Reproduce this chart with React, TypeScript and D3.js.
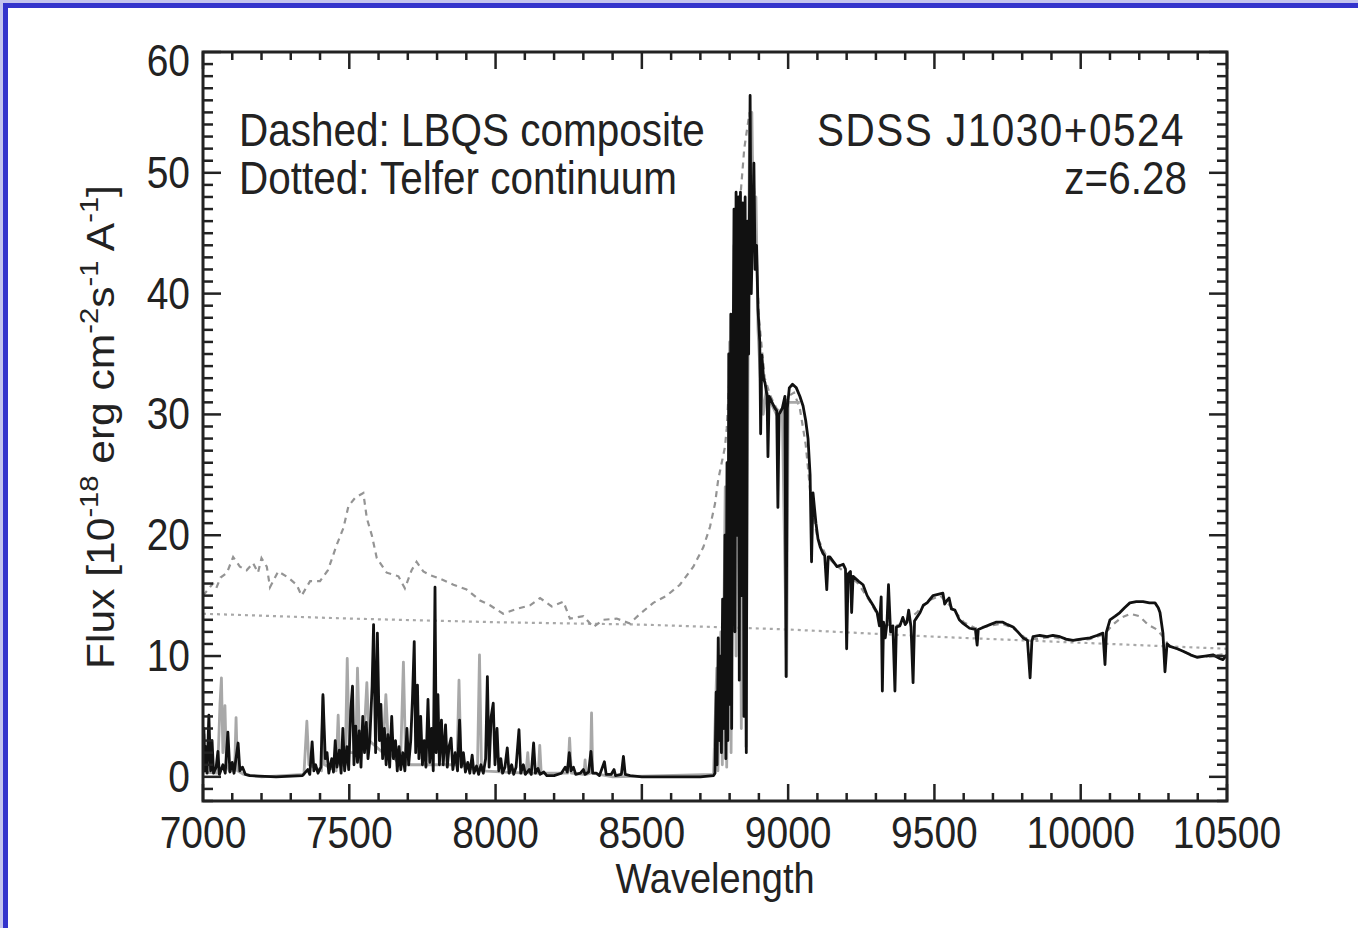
import React from "react";
import * as d3 from "d3";

// Observed spectrum of SDSS J1030+0524 (black trace), flux in 1e-18 erg/cm^2/s/A
const blackSpectrum: [number, number][] = [
  [7000, 1.0], [7003, 4.0], [7006, 0.5], [7010, 2.5], [7014, 0.3], [7020, 5.1], [7026, 0.5], [7031, 3.0], [7036, 0.3],
  [7045, 0.8], [7051, 2.1], [7056, 0.2], [7068, 1.0], [7076, 0.3], [7085, 3.7], [7092, 0.4], [7100, 1.2], [7106, 0.3],
  [7120, 2.8], [7126, 0.5], [7135, 0.8], [7145, 0.2], [7160, 0.1], [7250, 0.0], [7340, 0.1], [7358, 0.6], [7365, 0.2],
  [7373, 2.9], [7379, 0.5], [7385, 1.0], [7393, 0.3], [7403, 0.8], [7410, 6.8], [7418, 1.5], [7424, 2.0], [7430, 0.3],
  [7440, 1.5], [7446, 0.4], [7452, 3.0], [7458, 0.8], [7466, 2.2], [7472, 0.3], [7478, 4.0], [7484, 0.5], [7492, 2.5],
  [7498, 0.6], [7505, 5.5], [7511, 7.5], [7516, 1.0], [7522, 4.2], [7528, 1.2], [7534, 3.8], [7540, 0.8], [7546, 5.0],
  [7552, 2.0], [7558, 4.5], [7564, 1.5], [7570, 3.0], [7578, 7.5], [7583, 12.6], [7590, 2.0], [7596, 11.9], [7603, 3.0],
  [7608, 6.0], [7614, 1.5], [7620, 4.0], [7626, 1.0], [7632, 3.5], [7638, 0.8], [7645, 5.0], [7651, 1.5], [7658, 3.0],
  [7664, 0.5], [7670, 2.5], [7676, 0.6], [7683, 2.0], [7690, 0.5], [7697, 4.0], [7703, 1.0], [7710, 3.0], [7716, 6.5],
  [7722, 11.2], [7727, 2.0], [7733, 7.6], [7738, 1.5], [7744, 5.0], [7750, 1.0], [7756, 3.0], [7762, 0.8], [7769, 6.4],
  [7775, 1.2], [7781, 4.0], [7787, 0.5], [7793, 15.7], [7797, 2.0], [7803, 6.8], [7808, 1.0], [7815, 4.7], [7821, 1.0],
  [7829, 4.3], [7835, 0.8], [7841, 2.5], [7848, 3.2], [7854, 0.6], [7862, 2.0], [7870, 0.5], [7877, 4.7], [7883, 0.8],
  [7890, 2.0], [7897, 0.4], [7905, 1.2], [7912, 0.3], [7920, 1.8], [7926, 0.3], [7935, 0.9], [7942, 0.2], [7950, 1.0],
  [7958, 0.3], [7966, 1.5], [7972, 8.3], [7978, 0.8], [7985, 5.0], [7992, 6.1], [7998, 1.0], [8005, 4.0], [8011, 0.5],
  [8018, 1.5], [8024, 0.3], [8032, 0.8], [8040, 2.4], [8046, 0.3], [8055, 1.0], [8062, 0.2], [8070, 0.8], [8080, 3.9],
  [8086, 0.3], [8095, 1.0], [8102, 0.2], [8115, 0.6], [8122, 0.2], [8130, 2.8], [8136, 0.3], [8145, 0.7], [8152, 0.2],
  [8165, 0.4], [8175, 0.1], [8200, 0.1], [8225, 0.3], [8238, 0.8], [8245, 0.4], [8252, 2.0], [8258, 0.5], [8266, 0.8],
  [8274, 0.2], [8290, 0.3], [8300, 0.6], [8306, 0.2], [8318, 0.4], [8326, 2.1], [8332, 0.3], [8345, 0.3], [8355, 0.1],
  [8372, 1.25], [8378, 0.2], [8395, 0.2], [8405, 0.6], [8410, 0.1], [8430, 0.2], [8437, 1.7], [8443, 0.2], [8460, 0.1],
  [8500, 0.0], [8600, 0.0], [8700, 0.0], [8745, 0.1],
  [8750, 0.3], [8754, 7], [8757, 1], [8761, 11.5], [8765, 3], [8769, 10], [8772, 2], [8776, 14.7], [8780, 4], [8784, 20],
  [8787, 1.5], [8791, 26], [8794, 3], [8797, 35], [8800, 6], [8804, 38.3], [8807, 4], [8811, 30], [8815, 47], [8818, 12],
  [8822, 48.4], [8826, 20], [8830, 48], [8833, 8], [8837, 48.4], [8841, 15], [8845, 47.5], [8849, 5], [8853, 48], [8857, 2],
  [8861, 46], [8865, 35], [8870, 56.4], [8874, 40], [8878, 45], [8883, 50.8], [8887, 42], [8892, 44], [8897, 38.7],
  [8903, 36], [8906, 28.4], [8910, 34.9], [8916, 33], [8921, 32.6], [8928, 31.5], [8931, 26.5], [8935, 31.5], [8945, 31],
  [8955, 30.5], [8961, 30.3], [8965, 22.3], [8969, 30], [8980, 30.5], [8989, 31.5], [8993, 8.3], [8997, 30.5], [9004, 32.2],
  [9015, 32.5], [9028, 32.2], [9040, 31.5], [9051, 30.7], [9060, 29.5], [9068, 28], [9075, 25], [9080, 17.8], [9085, 23.5],
  [9095, 21], [9102, 19.7], [9110, 19], [9119, 18.5], [9125, 18.3], [9132, 15.5], [9137, 18.2], [9143, 18.2], [9155, 17.8],
  [9167, 17.4], [9178, 17.5], [9188, 17.6], [9196, 17.2], [9200, 10.6], [9205, 16.8], [9213, 17], [9217, 13.6], [9222, 16.6],
  [9240, 16.2], [9256, 15.9], [9270, 15], [9290, 14.2], [9304, 13.6], [9312, 12.5], [9318, 14.9], [9322, 7.1], [9326, 12.8],
  [9332, 11.5], [9338, 12.8], [9343, 15.9], [9350, 12], [9358, 12.5], [9365, 7.1], [9370, 12.4], [9382, 12.5], [9392, 13.2],
  [9400, 12.6], [9406, 12.8], [9412, 13.8], [9420, 12.4], [9427, 7.8], [9432, 12.9], [9440, 13.2], [9451, 13.6], [9462, 14.2],
  [9475, 14.4], [9485, 14.7], [9495, 15.0], [9512, 15.1], [9529, 15.2], [9535, 14.3], [9543, 14.6], [9550, 14.8], [9558, 13.9],
  [9570, 13.8], [9585, 13.0], [9598, 12.7], [9620, 12.3], [9640, 12.2], [9646, 10.9], [9650, 12.2], [9670, 12.4], [9690, 12.6],
  [9710, 12.8], [9734, 12.8], [9750, 12.6], [9769, 12.4], [9785, 12.0], [9803, 11.5], [9818, 11.3], [9827, 8.2], [9833, 11.2],
  [9837, 11.6], [9860, 11.7], [9885, 11.6], [9905, 11.7], [9929, 11.6], [9950, 11.4], [9974, 11.3], [10000, 11.4],
  [10032, 11.5], [10055, 11.7], [10076, 11.9], [10083, 9.3], [10088, 12], [10100, 13.0], [10118, 13.3], [10134, 13.6],
  [10150, 14.0], [10168, 14.4], [10190, 14.5], [10213, 14.5], [10235, 14.4], [10254, 14.4], [10265, 14.0], [10271, 13.6],
  [10281, 11.9], [10288, 8.7], [10295, 11.0], [10305, 10.8], [10330, 10.6], [10350, 10.4], [10375, 10.1], [10397, 9.9],
  [10425, 10.0], [10452, 10.1], [10475, 9.8], [10486, 9.7], [10500, 10.1],
];

// Second (lighter) spectrum, visible where it departs from the black one
const graySpectrum: [number, number][] = [
  [7000, 0.5], [7004, 3.5], [7008, 0.4], [7050, 0.3], [7058, 6.0], [7063, 8.2], [7068, 2.0], [7075, 5.9], [7080, 1.0],
  [7090, 0.5], [7108, 0.5], [7113, 4.9], [7118, 0.5], [7140, 0.2], [7200, 0.0], [7345, 0.2], [7355, 4.6], [7362, 1.0],
  [7405, 0.5], [7410, 6.6], [7415, 1.0], [7455, 0.5], [7462, 5.1], [7468, 1.0], [7486, 1.0], [7493, 9.8], [7500, 2.0],
  [7522, 2.0], [7528, 9.0], [7535, 3.0], [7550, 3.0], [7560, 7.8], [7568, 3.0], [7615, 2.0], [7625, 6.8], [7635, 2.0],
  [7675, 1.0], [7685, 9.5], [7693, 1.0], [7868, 1.0], [7875, 8.0], [7882, 1.0], [7938, 0.5], [7945, 10.1], [7952, 0.5],
  [8104, 0.3], [8110, 2.0], [8115, 0.3], [8146, 0.3], [8151, 2.6], [8156, 0.3], [8247, 0.3], [8253, 3.2], [8259, 0.3],
  [8302, 0.2], [8306, 1.4], [8310, 0.2], [8324, 0.3], [8328, 5.3], [8332, 0.3], [8400, 0.0], [8745, 0.2],
  [8756, 9], [8760, 0.5], [8770, 12], [8775, 1], [8785, 24], [8790, 0.8], [8800, 36], [8805, 2], [8815, 44], [8822, 10],
  [8830, 46], [8840, 4], [8848, 44], [8856, 2.5], [8862, 30], [8868, 54], [8876, 55], [8882, 44], [8890, 48], [8897, 37],
  [8905, 33], [8915, 30], [8925, 32], [8940, 31], [8960, 30], [8980, 30.5], [8995, 8.3], [9000, 31], [9040, 31],
];

// LBQS quasar composite, scaled to the object (dashed)
const lbqsComposite: [number, number][] = [
  [7000, 15.0], [7034, 16.0], [7045, 15.6], [7060, 16.5], [7082, 16.9], [7103, 18.2], [7126, 17.4], [7149, 17.1],
  [7171, 17.7], [7188, 16.9], [7200, 18.1], [7218, 17.4], [7229, 15.7], [7257, 17.0], [7291, 16.5], [7320, 15.9],
  [7337, 15.0], [7366, 16.2], [7400, 16.2], [7427, 17.1], [7457, 19.2], [7480, 20.6], [7497, 22.4], [7520, 23.1],
  [7548, 23.5], [7560, 21.4], [7577, 20.0], [7594, 18.1], [7628, 16.9], [7668, 16.6], [7690, 15.6], [7713, 17.1],
  [7730, 17.8], [7753, 17.0], [7776, 16.7], [7810, 16.4], [7856, 15.9], [7901, 15.5], [7947, 14.6], [7981, 14.2],
  [8026, 13.5], [8072, 13.9], [8118, 14.2], [8152, 14.8], [8192, 14.1], [8232, 14.5], [8254, 13.1], [8300, 13.3],
  [8334, 12.4], [8368, 13.0], [8414, 13.1], [8459, 12.7], [8494, 13.5], [8539, 14.4], [8585, 15.0], [8630, 15.9],
  [8676, 17.4], [8710, 19.0], [8733, 20.7], [8750, 22.6], [8761, 24.6], [8784, 27.3], [8790, 28.8], [8810, 38],
  [8830, 46], [8850, 52], [8868, 55], [8885, 48], [8900, 38], [8920, 33], [8940, 31.5], [8960, 30.5], [8980, 30],
  [9000, 31.5], [9020, 31.8], [9040, 30.5], [9060, 27.5], [9080, 22.5], [9100, 19.8], [9130, 18.3], [9160, 17.6],
  [9200, 16.8], [9240, 16.0], [9280, 14.5], [9320, 12.8], [9360, 12.4], [9400, 12.8], [9440, 13.6], [9480, 14.6],
  [9520, 15.0], [9560, 14.0], [9600, 12.8], [9640, 12.3], [9690, 12.5], [9730, 12.7], [9770, 12.3], [9810, 11.5],
  [9850, 11.4], [9900, 11.6], [9960, 11.3], [10030, 11.4], [10080, 11.8], [10110, 12.6], [10140, 13.2], [10170, 13.5],
  [10200, 13.3], [10230, 12.6], [10260, 12.2], [10285, 11.5], [10300, 10.9], [10350, 10.4], [10400, 9.9], [10450, 10.0],
  [10500, 10.2],
];

// Telfer power-law continuum (dotted)
const telferContinuum: [number, number][] = [
  [7000, 13.5], [7500, 13.1], [8000, 12.8], [8500, 12.6], [9000, 12.2], [9500, 11.6], [10000, 11.1], [10500, 10.6],
];

const xTickLabels = [7000, 7500, 8000, 8500, 9000, 9500, 10000, 10500];
const yTickLabels = [0, 10, 20, 30, 40, 50, 60];

const W = 1358;
const H = 928;
const M = { left: 203, right: 1227, top: 52, bottom: 801 };
const FONT = "'Liberation Sans', Arial, Helvetica, sans-serif";
const STRETCH = 1.12;
const INK = "#222";

export default function App() {
  const x = d3.scaleLinear().domain([7000, 10500]).range([M.left, M.right]);
  const y = d3.scaleLinear().domain([-2, 60]).range([M.bottom, M.top]);
  const line = d3
    .line<[number, number]>()
    .x((d) => x(d[0]))
    .y((d) => y(d[1]));

  const xMinor = d3.range(7000, 10500 + 1, 100);
  const yMinor = d3.range(-2, 60 + 1, 1);

  const txt = (
    key: string,
    tx: number,
    ty: number,
    s: string,
    anchor: "start" | "middle" | "end",
    size: number,
    spacing = 0
  ) => (
    <text
      key={key}
      transform={`translate(${tx},${ty}) scale(1,${STRETCH})`}
      textAnchor={anchor}
      fontFamily={FONT}
      fontSize={size}
      letterSpacing={spacing}
      fill={INK}
    >
      {s}
    </text>
  );

  return (
    <svg
      width={W}
      height={H}
      style={{ position: "absolute", left: 0, top: 0 }}
      xmlns="http://www.w3.org/2000/svg"
    >
      <rect x={0} y={0} width={W} height={H} fill="#c4c4ee" />
      <rect x={3} y={3} width={W} height={H} fill="#3434cc" />
      <rect x={8} y={8} width={W} height={H} fill="#ffffff" />

      <defs>
        <clipPath id="plot-clip">
          <rect x={M.left} y={M.top} width={M.right - M.left} height={M.bottom - M.top} />
        </clipPath>
      </defs>

      <g clipPath="url(#plot-clip)" fill="none">
        <path d={line(telferContinuum) || ""} stroke="#a8a8a8" strokeWidth={2.2} strokeDasharray="3,4" />
        <path d={line(lbqsComposite) || ""} stroke="#949494" strokeWidth={2.2} strokeDasharray="6,5" />
        <path d={line(graySpectrum) || ""} stroke="#a8a8a8" strokeWidth={2.8} strokeLinejoin="round" />
        <path d={line(blackSpectrum) || ""} stroke="#111" strokeWidth={2.8} strokeLinejoin="round" />
      </g>

      {/* minor and major ticks, pointing inward on all four sides */}
      <g stroke={INK} strokeWidth={2.5}>
        {xMinor.map((v) => {
          const major = v % 500 === 0;
          const len = major ? 17 : 8;
          return (
            <g key={`xt${v}`}>
              <line x1={x(v)} x2={x(v)} y1={M.bottom} y2={M.bottom - len} />
              <line x1={x(v)} x2={x(v)} y1={M.top} y2={M.top + len} />
            </g>
          );
        })}
        {yMinor.map((v) => {
          const major = v % 10 === 0;
          const len = major ? 18 : 10;
          return (
            <g key={`yt${v}`}>
              <line x1={M.left} x2={M.left + len} y1={y(v)} y2={y(v)} />
              <line x1={M.right} x2={M.right - len} y1={y(v)} y2={y(v)} />
            </g>
          );
        })}
      </g>
      <rect
        x={M.left}
        y={M.top}
        width={M.right - M.left}
        height={M.bottom - M.top}
        fill="none"
        stroke={INK}
        strokeWidth={3}
      />

      {xTickLabels.map((v) => txt(`xl${v}`, x(v), 848, String(v), "middle", 39))}
      {yTickLabels.map((v) => txt(`yl${v}`, 190, Math.max(y(v), M.top + 9) + 15, String(v), "end", 39))}

      {txt("xlab", (M.left + M.right) / 2, 893, "Wavelength", "middle", 38)}

      <text
        transform={`translate(114,427) scale(1,${STRETCH}) rotate(-90)`}
        textAnchor="middle"
        fontFamily={FONT}
        fontSize={38}
        fill={INK}
      >
        Flux [10
        <tspan fontSize={26} dy={-16}>-18</tspan>
        <tspan dy={16}> erg cm</tspan>
        <tspan fontSize={26} dy={-16}>-2</tspan>
        <tspan dy={16}>s</tspan>
        <tspan fontSize={26} dy={-16}>-1</tspan>
        <tspan dy={16}> A</tspan>
        <tspan fontSize={26} dy={-16}>-1</tspan>
        <tspan dy={16}>]</tspan>
      </text>

      {txt("leg1", 239, 146, "Dashed: LBQS composite", "start", 40.5)}
      {txt("leg2", 239, 194, "Dotted: Telfer continuum", "start", 40.5)}
      {txt("obj", 1185, 146, "SDSS J1030+0524", "end", 40.5, 1.5)}
      {txt("zred", 1187, 194, "z=6.28", "end", 40.5)}
    </svg>
  );
}
